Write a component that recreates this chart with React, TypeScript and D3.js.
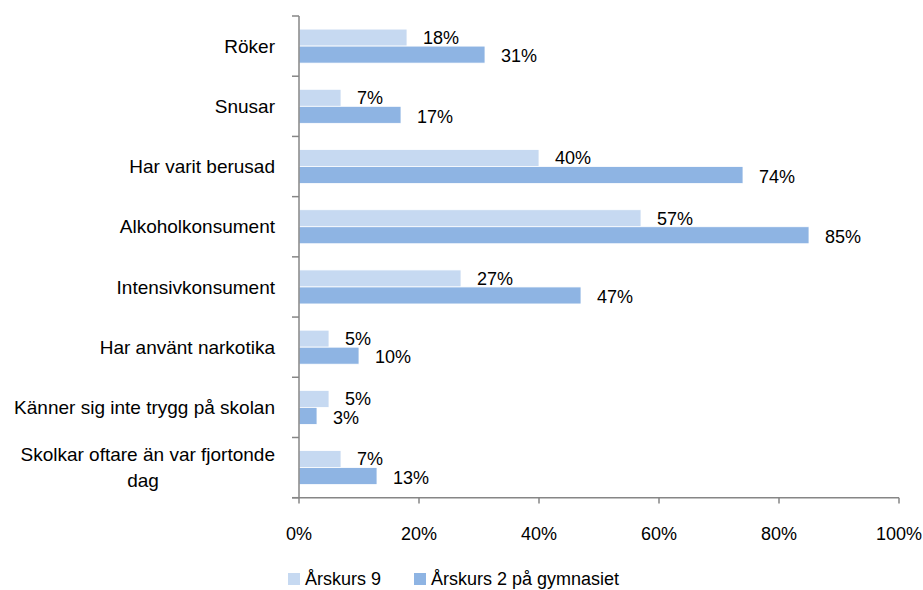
import React from "react";
import * as d3 from "d3";

const categories = [
  ["Röker"],
  ["Snusar"],
  ["Har varit berusad"],
  ["Alkoholkonsument"],
  ["Intensivkonsument"],
  ["Har använt narkotika"],
  ["Känner sig inte trygg på skolan"],
  ["Skolkar oftare än var fjortonde", "dag"],
];
const seriesNames = ["Årskurs 9", "Årskurs 2 på gymnasiet"];
const ak9 = [18, 7, 40, 57, 27, 5, 5, 7];
const gy2 = [31, 17, 74, 85, 47, 10, 3, 13];
const xTicks = [0, 20, 40, 60, 80, 100];
const colors = ["#c6d9f1", "#8eb4e3"];

export default function App() {
  const W = 923, H = 590;
  const x = d3.scaleLinear().domain([0, 100]).range([299, 899]);
  const keys = categories.map((c) => c.join(" "));
  const y = d3.scaleBand<string>().domain(keys).range([16, 497.7]).paddingInner(0).paddingOuter(0);
  const sub = d3.scaleBand<number>().domain([0, 1]).range([0, y.step()]).paddingInner(0).paddingOuter(0.77);
  const series = [ak9, gy2];
  const axisColor = "#868686";
  const font = "'Liberation Sans', Arial, sans-serif";
  const boundaries = d3.range(keys.length + 1).map((i) => 16 + i * y.step());

  return (
    <svg width={W} height={H} style={{ position: "absolute", left: 0, top: 0, background: "#fff" }} fontFamily={font}>
      {series.map((vals, si) =>
        vals.map((v, i) => (
          <rect
            key={`b${si}-${i}`}
            x={x(0)}
            y={(y(keys[i]) as number) + (sub(si) as number)}
            width={x(v) - x(0)}
            height={sub.bandwidth()}
            fill={colors[si]}
            stroke="#fff"
            strokeWidth={0.8}
          />
        ))
      )}
      {series.map((vals, si) =>
        vals.map((v, i) => (
          <text
            key={`l${si}-${i}`}
            x={x(v) + 16}
            y={(y(keys[i]) as number) + (sub(si) as number) + sub.bandwidth() / 2 + (si === 1 ? 1.5 : 0)}
            dy="0.35em"
            fontSize={18}
            fill="#000"
          >
            {v}%
          </text>
        ))
      )}
      {/* y axis */}
      <line x1={x(0)} x2={x(0)} y1={16} y2={497.7} stroke={axisColor} strokeWidth={1.5} />
      {boundaries.map((b, i) => (
        <line key={`yt${i}`} x1={x(0) - 7} x2={x(0)} y1={b} y2={b} stroke={axisColor} strokeWidth={1.5} />
      ))}
      {/* x axis */}
      <line x1={x(0) - 7} x2={x(100)} y1={497.7} y2={497.7} stroke={axisColor} strokeWidth={1.5} />
      {xTicks.map((t) => (
        <g key={`xt${t}`}>
          <line x1={x(t)} x2={x(t)} y1={497.7} y2={503.5} stroke={axisColor} strokeWidth={1.5} />
          <text x={x(t)} y={534} dy="0.35em" textAnchor="middle" fontSize={18} fill="#000">
            {t}%
          </text>
        </g>
      ))}
      {/* category labels */}
      {categories.map((lines, i) => {
        const cy = (y(keys[i]) as number) + y.step() / 2;
        const lh = 26;
        const start = cy - ((lines.length - 1) * lh) / 2;
        return lines.map((ln, j) => (
          <text
            key={`c${i}-${j}`}
            x={lines.length > 1 && j > 0 ? 143 : 275}
            y={start + j * lh}
            dy="0.35em"
            textAnchor={lines.length > 1 && j > 0 ? "middle" : "end"}
            fontSize={19}
            fill="#000"
          >
            {ln}
          </text>
        ));
      })}
      {/* legend */}
      <rect x={288} y={573} width={12} height={12} fill={colors[0]} />
      <text x={305} y={579} dy="0.35em" fontSize={18} fill="#000">{seriesNames[0]}</text>
      <rect x={414} y={573} width={12} height={12} fill={colors[1]} />
      <text x={431} y={579} dy="0.35em" fontSize={18} fill="#000">{seriesNames[1]}</text>
    </svg>
  );
}
